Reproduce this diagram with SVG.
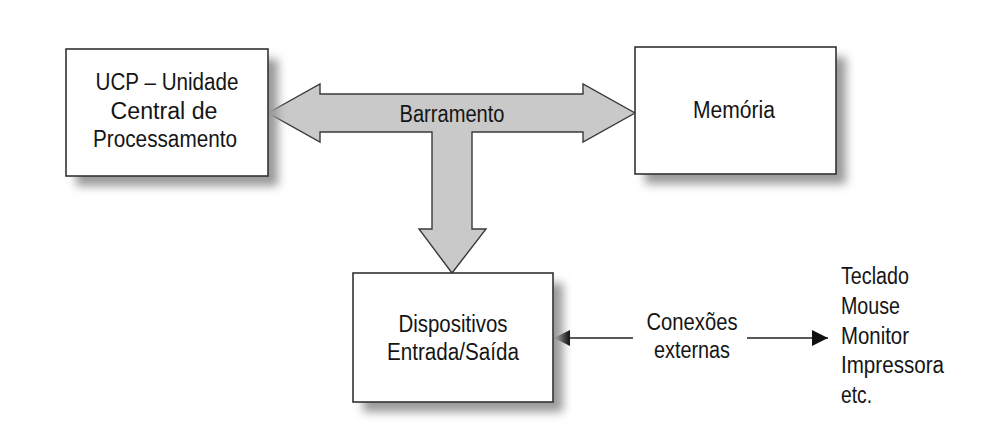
<svg xmlns="http://www.w3.org/2000/svg" width="988" height="442" viewBox="0 0 988 442">
  <defs>
    <filter id="shadow" x="-20%" y="-20%" width="140%" height="140%">
      <feGaussianBlur stdDeviation="5"/>
    </filter>
    <marker id="arrow" viewBox="0 0 16 16" refX="16" refY="8" markerWidth="16" markerHeight="16" markerUnits="userSpaceOnUse" orient="auto-start-reverse">
      <path d="M0,0 L16,8 L0,16 Z" fill="#111"/>
    </marker>
  </defs>
  <style>
    .box { fill: #ffffff; stroke: #333333; stroke-width: 1.6; }
    .shadow { fill: #9a9a9a; filter: url(#shadow); }
    .label { font-family: "Liberation Sans", Arial, sans-serif; font-size: 23px; fill: #151515; }
    .mid { text-anchor: middle; }
    .bus { fill: #c9c9c9; stroke: #3a3a3a; stroke-width: 1.4; stroke-linejoin: miter; }
    .line { stroke: #222222; stroke-width: 1.4; fill: none; }
  </style>
  <rect width="988" height="442" fill="#ffffff"/>

  <g id="connectors">
    <g id="barramento">
      <polygon class="bus" points="268,113 320,84 320,94 583,94 583,84 635,113 583,142 583,132 472,132 472,229 486,229 452,273 419,229 432,229 432,132 320,132 320,142"/>
      <text class="label mid" x="452" y="122" textLength="105" lengthAdjust="spacingAndGlyphs">Barramento</text>
    </g>
    <line class="line" x1="633" y1="338" x2="554" y2="338" marker-end="url(#arrow)"/>
    <line class="line" x1="747" y1="338" x2="828" y2="338" marker-end="url(#arrow)"/>
    <text class="label mid" x="692" y="330" textLength="91" lengthAdjust="spacingAndGlyphs">Conexões</text>
    <text class="label mid" x="692" y="358" textLength="76" lengthAdjust="spacingAndGlyphs">externas</text>
  </g>

  <g id="ucp">
    <rect class="shadow" x="76" y="59" width="202" height="127"/>
    <rect class="box" x="66" y="49" width="202" height="127"/>
    <text class="label mid" x="167" y="90" textLength="143" lengthAdjust="spacingAndGlyphs">UCP – Unidade</text>
    <text class="label mid" x="164" y="119" textLength="107" lengthAdjust="spacingAndGlyphs">Central de</text>
    <text class="label mid" x="165" y="147" textLength="144" lengthAdjust="spacingAndGlyphs">Processamento</text>
  </g>

  <g id="memoria">
    <rect class="shadow" x="645" y="57" width="201" height="127"/>
    <rect class="box" x="635" y="47" width="201" height="127"/>
    <text class="label mid" x="734" y="118" textLength="82" lengthAdjust="spacingAndGlyphs">Memória</text>
  </g>

  <g id="dispositivos">
    <rect class="shadow" x="363" y="283" width="200" height="129"/>
    <rect class="box" x="353" y="273" width="200" height="129"/>
    <text class="label mid" x="453" y="332" textLength="109" lengthAdjust="spacingAndGlyphs">Dispositivos</text>
    <text class="label mid" x="453" y="360" textLength="132" lengthAdjust="spacingAndGlyphs">Entrada/Saída</text>
  </g>

  <g id="perifericos">
    <text class="label" x="841" y="284" textLength="68" lengthAdjust="spacingAndGlyphs">Teclado</text>
    <text class="label" x="841" y="314" textLength="59" lengthAdjust="spacingAndGlyphs">Mouse</text>
    <text class="label" x="841" y="344" textLength="68" lengthAdjust="spacingAndGlyphs">Monitor</text>
    <text class="label" x="841" y="373" textLength="103" lengthAdjust="spacingAndGlyphs">Impressora</text>
    <text class="label" x="841" y="403" textLength="31" lengthAdjust="spacingAndGlyphs">etc.</text>
  </g>
</svg>
